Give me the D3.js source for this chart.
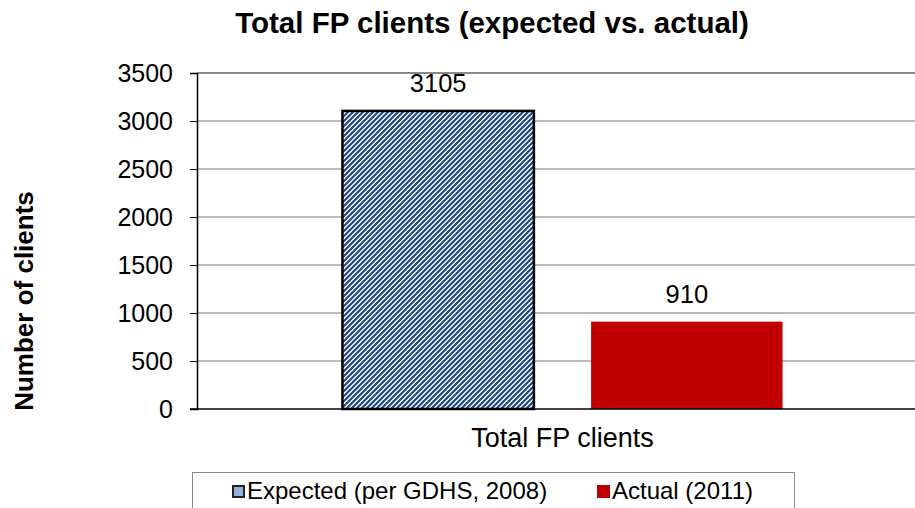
<!DOCTYPE html>
<html>
<head>
<meta charset="utf-8">
<script src="https://cdn.jsdelivr.net/npm/d3@7"></script>
<style>
  body { margin: 0; background: #fff; }
  text { font-family: "Liberation Sans", Arial, sans-serif; }
</style>
</head>
<body>
<svg id="svg" width="915" height="508"></svg>
<script>
// chart data
const categories = ['Total FP clients'];
const seriesNames = ['Expected (per GDHS, 2008)', 'Actual (2011)'];
const seriesValues = [3105, 910];
const yTicks = [0, 500, 1000, 1500, 2000, 2500, 3000, 3500];

const svg = d3.select('#svg');
const plot = {left: 197, right: 928, top: 73, bottom: 409};

// stripe pattern for the expected bar ( "/" direction )
const defs = svg.append('defs');
const pat = defs.append('pattern')
  .attr('id', 'stripes')
  .attr('patternUnits', 'userSpaceOnUse')
  .attr('width', 5).attr('height', 5);
pat.append('rect').attr('width', 5).attr('height', 5).attr('fill', '#fff');
pat.append('path')
  .attr('d', 'M-1,6 L6,-1 M-1,1 L1,-1 M4,6 L6,4')
  .attr('stroke', '#1f497d').attr('stroke-width', 2.2);

const y = d3.scaleLinear().domain([0, 3500]).range([plot.bottom, plot.top]);
const x0 = d3.scaleBand().domain(categories).range([plot.left, plot.right]);
const x1 = d3.scaleBand().domain(seriesNames)
  .range([0, x0.bandwidth()]).paddingInner(0.23).paddingOuter(0.585);

// gridlines
svg.append('g').selectAll('line')
  .data(yTicks.filter(d => d > 0))
  .enter().append('line')
  .attr('x1', plot.left).attr('x2', 915)
  .attr('y1', d => y(d)).attr('y2', d => y(d))
  .attr('stroke', d => d === 3500 ? '#888' : '#777')
  .attr('stroke-width', d => d === 3500 ? 2 : 1);

// y axis
const yAxis = svg.append('g')
  .attr('transform', `translate(${plot.left},0)`)
  .call(d3.axisLeft(y).tickValues(yTicks).tickFormat(d3.format('d')).tickSize(7).tickPadding(17));
yAxis.select('.domain').attr('stroke', '#000').attr('stroke-width', 1.5);
yAxis.selectAll('.tick line').attr('stroke', '#000');
yAxis.selectAll('text').attr('font-size', 25).attr('fill', '#000')
  .style('font-family', '"Liberation Sans", Arial, sans-serif');

// bars
const fills = ['url(#stripes)', '#c00000'];
svg.append('g').selectAll('rect')
  .data(seriesValues)
  .enter().append('rect')
  .attr('x', (d, i) => x0(categories[0]) + x1(seriesNames[i]))
  .attr('width', x1.bandwidth())
  .attr('y', d => y(d))
  .attr('height', d => y(0) - y(d))
  .attr('fill', (d, i) => fills[i])
  .attr('stroke', (d, i) => i === 0 ? '#000' : 'none')
  .attr('stroke-width', 2.5);

// x axis baseline
svg.append('line')
  .attr('x1', plot.left - 7).attr('x2', 915)
  .attr('y1', y(0)).attr('y2', y(0))
  .attr('stroke', '#000').attr('stroke-width', 1.5);

// value labels
svg.append('g').selectAll('text')
  .data(seriesValues)
  .enter().append('text')
  .attr('x', (d, i) => x0(categories[0]) + x1(seriesNames[i]) + x1.bandwidth() / 2)
  .attr('y', d => y(d) - 19)
  .attr('text-anchor', 'middle')
  .attr('font-size', 25.5)
  .text(d => d);

// category label
svg.append('text')
  .attr('x', x0(categories[0]) + x0.bandwidth() / 2)
  .attr('y', 447)
  .attr('text-anchor', 'middle')
  .attr('font-size', 27)
  .text(categories[0]);

// title
svg.append('text')
  .attr('x', 492).attr('y', 33)
  .attr('text-anchor', 'middle')
  .attr('font-size', 29.5).attr('font-weight', 'bold')
  .text('Total FP clients (expected vs. actual)');

// y axis title
svg.append('text')
  .attr('transform', 'translate(33,301) rotate(-90)')
  .attr('text-anchor', 'middle')
  .attr('font-size', 26).attr('font-weight', 'bold')
  .text('Number of clients');

// legend
const legend = svg.append('g');
legend.append('rect')
  .attr('x', 192.5).attr('y', 472.5)
  .attr('width', 602).attr('height', 50)
  .attr('fill', '#fff').attr('stroke', '#888');
const legendX = [232, 597];
const swatch = ['#95b3d7', '#c00000'];
seriesNames.forEach((name, i) => {
  legend.append('rect')
    .attr('x', legendX[i] + (i === 0 ? 1 : 0)).attr('y', 485 + (i === 0 ? 1 : 0))
    .attr('width', i === 0 ? 11 : 13).attr('height', i === 0 ? 11 : 13)
    .attr('fill', swatch[i])
    .attr('stroke', i === 0 ? '#222' : 'none')
    .attr('stroke-width', 2);
  legend.append('text')
    .attr('x', legendX[i] + 15).attr('y', 499)
    .attr('font-size', 24)
    .text(name);
});
</script>
</body>
</html>
